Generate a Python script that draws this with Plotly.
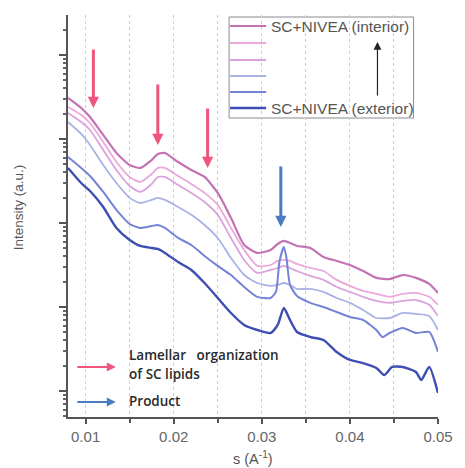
import plotly.graph_objects as go

# ---------------- data ----------------
s_common = [0.008, 0.0095, 0.0105, 0.012, 0.0135, 0.015, 0.0162, 0.0175, 0.0182, 0.019,
            0.0205, 0.022, 0.0235, 0.025, 0.0265, 0.028, 0.0295, 0.031, 0.0318, 0.0325,
            0.0332, 0.034, 0.0355, 0.037, 0.0385, 0.04, 0.0415, 0.043, 0.0445, 0.046,
            0.0475, 0.049, 0.05]

int_1 = [3080, 2340, 1828, 1116, 681, 490, 452, 562, 663, 681,
         532, 428, 353, 228, 115, 54.7, 44.0, 47.7, 56.2, 61.1,
         57.8, 53.2, 50.4, 39.4, 35.3, 31.6, 26.8, 22.2, 21.5, 24.0,
         22.2, 18.8, 14.7]
int_2 = [2404, 1931, 1549, 921, 532, 353, 308, 383, 452, 452,
         363, 291, 228, 164, 87.2, 47.7, 30.8, 31.6, 35.3, 36.3,
         35.3, 32.5, 29.1, 26.8, 21.0, 17.8, 15.5, 14.3, 13.2, 14.3,
         14.7, 13.2, 10.6]
int_3 = [2042, 1594, 1280, 740, 428, 276, 234, 291, 353, 353,
         283, 228, 178, 125, 66.3, 36.3, 25.4, 27.6, 29.1, 30.8,
         29.1, 26.8, 23.4, 21.0, 17.3, 15.1, 13.2, 11.8, 11.2, 11.8,
         12.1, 10.6, 7.81]
int_4 = [1594, 1148, 849, 490, 299, 199, 173, 188, 199, 188,
         155, 125, 94.7, 66.3, 38.3, 24.0, 19.3, 17.8, 18.3, 19.3,
         18.3, 16.4, 16.4, 15.1, 12.8, 11.2, 9.21, 7.39, 7.39, 8.48,
         8.26, 7.81, 5.32]

s_5 = [0.008, 0.0095, 0.0105, 0.012, 0.0135, 0.015, 0.0162, 0.0175, 0.0182, 0.019,
       0.0205, 0.022, 0.0235, 0.025, 0.0265, 0.028, 0.0295, 0.031, 0.0316, 0.0320,
       0.0325, 0.0328, 0.0332, 0.034, 0.0355, 0.037, 0.0385, 0.04, 0.0415, 0.043,
       0.0437, 0.0445, 0.046, 0.0475, 0.049, 0.05]
int_5 = [610, 452, 363, 234, 143, 97.3, 87.2, 92.1, 94.7, 87.2,
         66.3, 54.7, 40.5, 30.8, 24.0, 17.3, 13.2, 12.8, 15.1, 34.3,
         51.8, 38.3, 18.3, 13.5, 11.2, 10.0, 8.72, 7.60, 7.00, 5.32,
         4.39, 4.90, 5.62, 4.90, 5.04, 2.91]

s_6 = [0.008, 0.0095, 0.0105, 0.012, 0.0135, 0.015, 0.0162, 0.0175, 0.0182, 0.019,
       0.0205, 0.022, 0.0235, 0.025, 0.0265, 0.028, 0.0295, 0.031, 0.0318, 0.0325,
       0.0332, 0.034, 0.0355, 0.037, 0.0385, 0.04, 0.0415, 0.043, 0.0439, 0.0448,
       0.046, 0.0475, 0.0481, 0.049, 0.05]
int_6 = [452, 299, 240, 155, 87.2, 62.8, 53.2, 50.4, 49.0, 44.0,
         34.3, 27.6, 19.3, 12.8, 8.48, 6.11, 5.32, 4.90, 6.11, 9.73,
         7.00, 5.04, 4.39, 4.05, 2.91, 2.34, 2.15, 1.88, 1.55, 1.93,
         1.93, 1.68, 1.35, 1.93, 0.946]

series_names = ["SC+NIVEA (interior)", "", "", "", "", "SC+NIVEA (exterior)"]
series_colors = ["#c373b3", "#eba8da", "#d9a3dd", "#a9b2e7", "#7483d6", "#3e4eb3"]
series_widths = [2.2, 1.8, 1.8, 1.8, 2.0, 2.4]

x_ticks = [0.01, 0.02, 0.03, 0.04, 0.05]
x_tick_labels = ["0.01", "0.02", "0.03", "0.04", "0.05"]

# ---------------- figure ----------------
W, H = 465, 468
ML, MR, MT, MB = 68, 18, 15, 51
PW, PH = W - ML - MR, H - MT - MB


def px(xp):
    return (xp - ML) / PW


def py(yp):
    return (H - MB - yp) / PH


fig = go.Figure()
xs_list = [s_common, s_common, s_common, s_common, s_5, s_6]
ys_list = [int_1, int_2, int_3, int_4, int_5, int_6]
for xs, ys, name, col, w in zip(xs_list, ys_list, series_names, series_colors, series_widths):
    fig.add_trace(go.Scatter(x=xs, y=ys, mode="lines", name=name,
                             line=dict(color=col, width=w, shape="spline", smoothing=0.6),
                             showlegend=False))

shapes = []
annotations = []

# white patches hiding the grid behind the legend and the note
shapes.append(dict(type="rect", xref="paper", yref="paper",
                   x0=px(69), x1=px(262), y0=py(414), y1=py(343),
                   fillcolor="white", line=dict(width=0), layer="between"))
shapes.append(dict(type="rect", xref="paper", yref="paper",
                   x0=px(233), x1=px(422), y0=py(118), y1=py(17),
                   fillcolor="white", line=dict(color="#8a8a8a", width=1), layer="between"))

# manual legend
row_y = [26, 43, 60, 76, 92, 108]
for yy, col, w in zip(row_y, series_colors, series_widths):
    shapes.append(dict(type="line", xref="paper", yref="paper",
                       x0=px(234), x1=px(271), y0=py(yy), y1=py(yy),
                       line=dict(color=col, width=w)))
for yy, name in zip(row_y, series_names):
    if name:
        annotations.append(dict(xref="paper", yref="paper", x=px(274), y=py(yy),
                                text=name, showarrow=False, xanchor="left", yanchor="middle",
                                font=dict(family="Liberation Sans, Arial", size=15.5, color="#555")))
annotations.append(dict(xref="paper", yref="paper", x=px(385), y=py(42), ax=0, ay=55,
                        text="", showarrow=True, arrowhead=2, arrowsize=1.3, arrowwidth=1.2,
                        arrowcolor="#222"))

# feature arrows
red = "#f0567c"
blue = "#4a7cc2"
for (xh, yh, L) in [(94, 108, 60), (160, 145, 62), (211, 168, 61)]:
    annotations.append(dict(xref="paper", yref="paper", x=px(xh), y=py(yh), ax=0, ay=-L,
                            text="", showarrow=True, arrowhead=2, arrowsize=0.75, arrowwidth=3,
                            arrowcolor=red))
annotations.append(dict(xref="paper", yref="paper", x=px(286), y=py(227), ax=0, ay=-62,
                        text="", showarrow=True, arrowhead=2, arrowsize=0.75, arrowwidth=3,
                        arrowcolor=blue))

# note at bottom left
annotations.append(dict(xref="paper", yref="paper", x=px(117), y=py(367), ax=-40, ay=0,
                        text="", showarrow=True, arrowhead=2, arrowsize=0.9, arrowwidth=2,
                        arrowcolor=red))
annotations.append(dict(xref="paper", yref="paper", x=px(117), y=py(402), ax=-40, ay=0,
                        text="", showarrow=True, arrowhead=2, arrowsize=0.9, arrowwidth=2,
                        arrowcolor=blue))
note_font = dict(family="Open Sans, Liberation Sans", size=13.5, color="#2a2a2a", weight=600)
annotations.append(dict(xref="paper", yref="paper", x=px(128), y=py(355),
                        text="Lamellar\u00a0\u00a0\u00a0organization", showarrow=False,
                        xanchor="left", yanchor="middle", font=note_font))
annotations.append(dict(xref="paper", yref="paper", x=px(128), y=py(374),
                        text="of SC lipids", showarrow=False,
                        xanchor="left", yanchor="middle", font=note_font))
annotations.append(dict(xref="paper", yref="paper", x=px(128), y=py(401),
                        text="Product", showarrow=False,
                        xanchor="left", yanchor="middle", font=note_font))

# axis titles
annotations.append(dict(xref="paper", yref="paper", x=px(17), y=py(207),
                        text="Intensity (a.u.)", showarrow=False, textangle=-90,
                        xanchor="center", yanchor="middle",
                        font=dict(family="Liberation Sans, Arial", size=13.5, color="#555")))
annotations.append(dict(xref="paper", yref="paper", x=px(257), y=py(458),
                        text="s (A<sup>-1</sup>)", showarrow=False,
                        xanchor="center", yanchor="middle",
                        font=dict(family="Liberation Sans, Arial", size=14.5, color="#555")))

fig.update_layout(
    width=W, height=H,
    margin=dict(l=ML, r=MR, t=MT, b=MB),
    paper_bgcolor="white", plot_bgcolor="white",
    shapes=shapes, annotations=annotations,
    showlegend=False,
    xaxis=dict(range=[0.008, 0.05], tickvals=x_ticks, ticktext=x_tick_labels,
               ticks="outside", ticklen=5, tickwidth=1.5, tickcolor="#555",
               showline=True, linecolor="#555", linewidth=2,
               showgrid=True, gridcolor="#cdcdcd", gridwidth=1, griddash="dot",
               tickfont=dict(family="Liberation Sans, Arial", size=15, color="#666"),
               minor=dict(tickvals=[0.015, 0.025, 0.035, 0.045], ticks="outside", ticklen=4,
                          tickcolor="#555", showgrid=True, gridcolor="#cdcdcd",
                          griddash="dot"),
               zeroline=False, mirror=False),
    yaxis=dict(type="log", range=[-0.31, 4.476], dtick=1,
               ticks="outside", ticklen=7, tickwidth=1.5, tickcolor="#555",
               showticklabels=False,
               showline=True, linecolor="#555", linewidth=2,
               showgrid=False, zeroline=False,
               minor=dict(ticks="outside", ticklen=3.5, dtick="D1", tickcolor="#666",
                          showgrid=False)),
)

fig.write_html("out.html")
